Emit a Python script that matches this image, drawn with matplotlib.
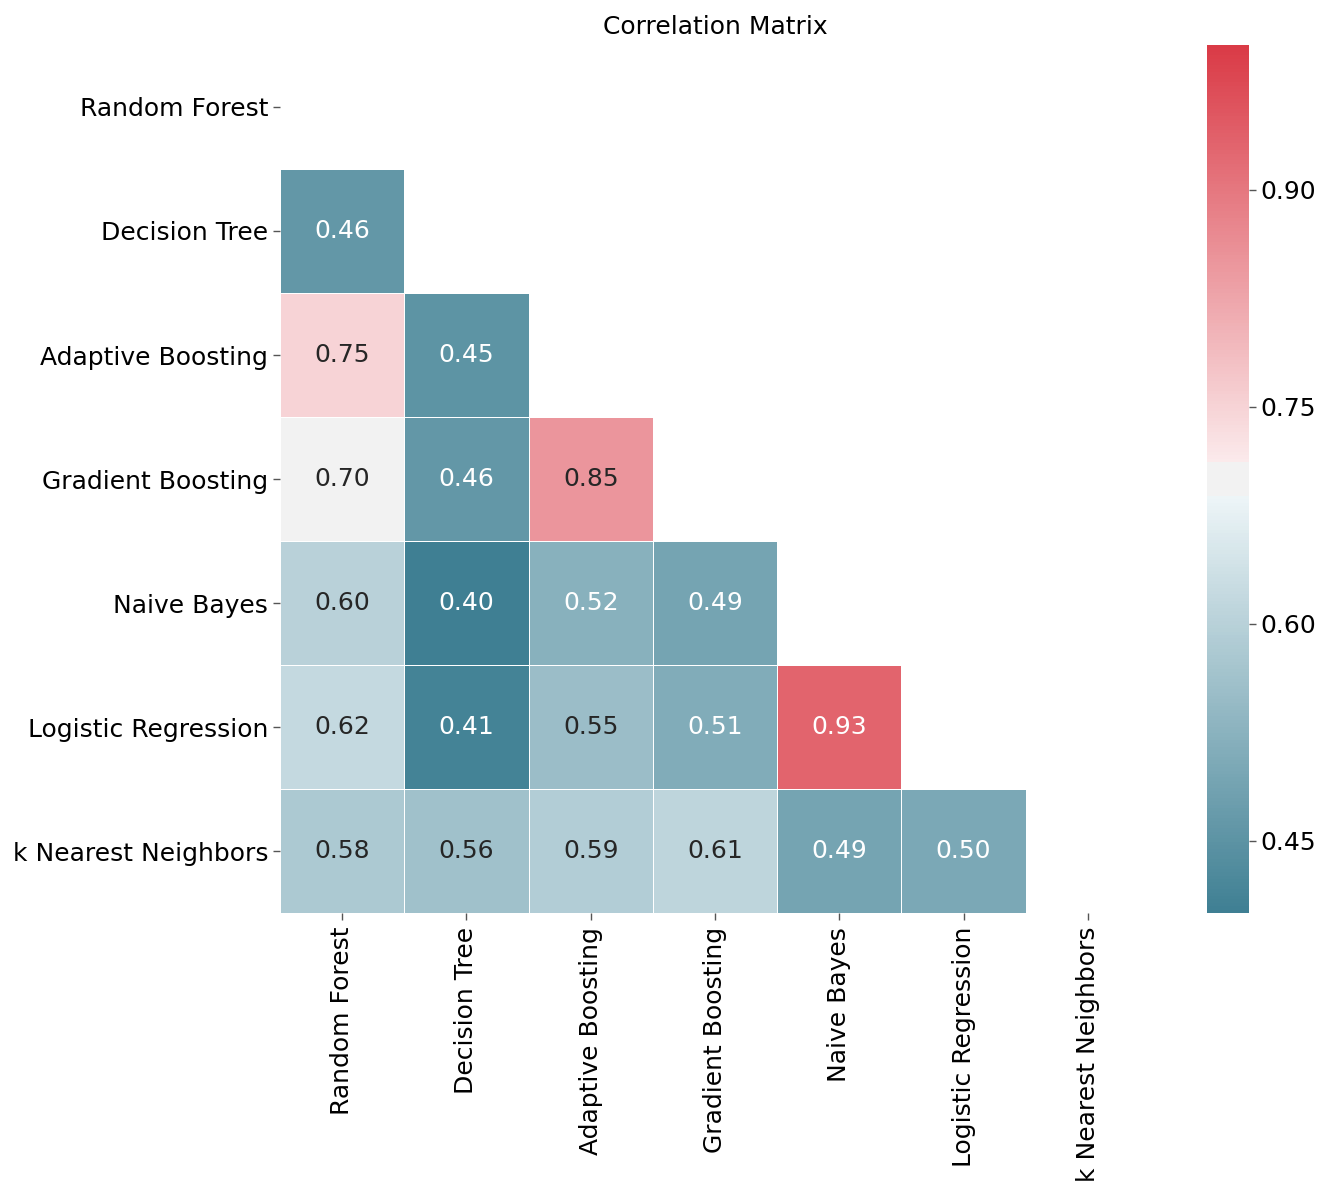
import numpy as np
import colorsys
import matplotlib
matplotlib.use("Agg")
import matplotlib.pyplot as plt
import matplotlib.transforms as mtransforms
from matplotlib.colors import LinearSegmentedColormap
import seaborn as sns
from seaborn.external import husl

models = ["Random Forest", "Decision Tree", "Adaptive Boosting", "Gradient Boosting",
          "Naive Bayes", "Logistic Regression", "k Nearest Neighbors"]

# lower-triangle correlations, row by row
row_dt = [0.46]
row_ab = [0.75, 0.45]
row_gb = [0.70, 0.46, 0.85]
row_nb = [0.60, 0.40, 0.52, 0.49]
row_lr = [0.62, 0.41, 0.55, 0.51, 0.93]
row_knn = [0.58, 0.56, 0.59, 0.61, 0.49, 0.50]
rows = [[], row_dt, row_ab, row_gb, row_nb, row_lr, row_knn]

n = len(models)
corr = np.eye(n)
for i, r in enumerate(rows):
    for j, v in enumerate(r):
        corr[i, j] = v
        corr[j, i] = v
mask = np.triu(np.ones_like(corr, dtype=bool))


# old-style seaborn diverging palette (220, 10, sep=10)
def _light(h, s=75, l=50, count=123, reverse=False):
    rgb = np.clip(husl.husl_to_rgb(h, s, l), 0, 1)
    hh, ll, ss = colorsys.rgb_to_hls(*rgb)
    light = colorsys.hls_to_rgb(hh, 0.95, ss)
    cols = [rgb, light] if reverse else [light, rgb]
    cm = LinearSegmentedColormap.from_list("b", cols)
    return [cm(x)[:3] for x in np.linspace(0, 1, count)]


sep = 10
neg = _light(220, count=128 - sep // 2, reverse=True)
pos = _light(10, count=128 - sep // 2)
mid = [(0.95, 0.95, 0.95)] * sep
cmap = LinearSegmentedColormap.from_list("div", neg + mid + pos)

DPI = 100
W, H = 1320, 1183
fig = plt.figure(figsize=(W / DPI, H / DPI), dpi=DPI)
fs = 18

ax = fig.add_axes([280 / W, (H - 913) / H, 870 / W, 868 / H])
cax = fig.add_axes([1207 / W, (H - 913) / H, 42 / W, 868 / H])

sns.heatmap(corr, mask=mask, cmap=cmap, vmin=0.40, vmax=1.0, annot=True, fmt=".2f",
            linewidths=0.5, linecolor="white", square=False, ax=ax, cbar_ax=cax,
            annot_kws={"fontsize": fs},
            xticklabels=models, yticklabels=models)

ax.set_title("Correlation Matrix", fontsize=fs, pad=8)
ax.tick_params(axis="both", labelsize=fs, length=5, width=1, color="#555555")
ax.tick_params(axis="x", pad=5)
plt.setp(ax.get_xticklabels(), rotation=90)
plt.setp(ax.get_yticklabels(), rotation=0)
shift = mtransforms.ScaledTranslation(0, -2.5 / DPI, fig.dpi_scale_trans)
for lab in ax.get_yticklabels():
    lab.set_transform(lab.get_transform() + shift)
cax.tick_params(labelsize=fs, length=5, width=1, color="#555555")
cax.set_yticks([0.45, 0.60, 0.75, 0.90])
for s in cax.spines.values():
    s.set_visible(False)

fig.savefig("out.png", dpi=DPI)
